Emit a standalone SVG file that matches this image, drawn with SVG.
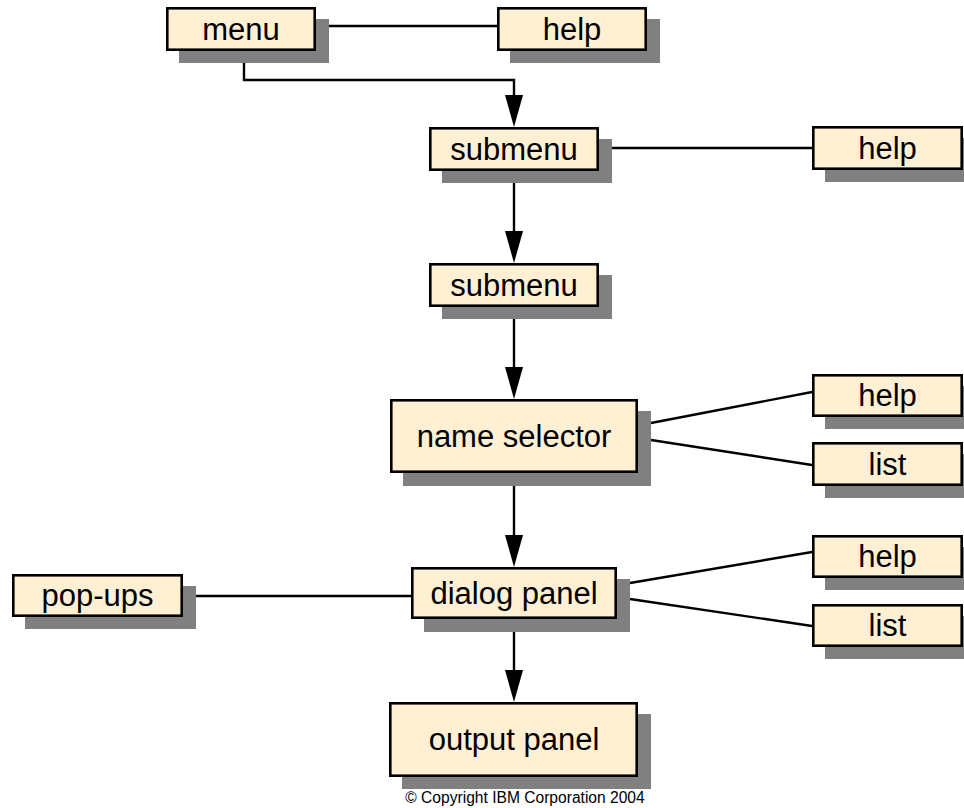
<svg xmlns="http://www.w3.org/2000/svg" width="964" height="808" viewBox="0 0 964 808">
  <style>
    .shadow { fill: #808080; }
    .box { fill: #FFEFD3; stroke: #000; stroke-width: 2.6; }
    .label { font-family: "Liberation Sans", Arial, sans-serif; font-size: 31px; fill: #000; text-anchor: middle; }
    .link { fill: none; stroke: #000; stroke-width: 2.4; }
    .flow { fill: none; stroke: #000; stroke-width: 2.4; marker-end: url(#arrow); }
    .note { font-family: "Liberation Sans", Arial, sans-serif; font-size: 15.6px; fill: #000; text-anchor: middle; }
  </style>
  <defs>
    <marker id="arrow" markerUnits="userSpaceOnUse" markerWidth="34" markerHeight="20" viewBox="0 0 34 20" refX="22" refY="10" orient="auto">
      <path d="M0,1 L32,10 L0,19 Z" fill="#000"/>
    </marker>
  </defs>

  <rect width="964" height="808" fill="#fff"/>

  <!-- connectors -->
  <g id="connectors">
    <line class="link" x1="329" y1="26" x2="497" y2="26"/>
    <line class="link" x1="612" y1="148" x2="812" y2="148"/>
    <line class="link" x1="651" y1="423" x2="812" y2="392"/>
    <line class="link" x1="651" y1="440" x2="812" y2="465"/>
    <line class="link" x1="630" y1="583" x2="812" y2="552"/>
    <line class="link" x1="630" y1="599" x2="812" y2="626"/>
    <line class="link" x1="196" y1="596" x2="411" y2="596"/>
    <path class="flow" d="M244,52 V80 H514 V117"/>
    <path class="flow" d="M514,183 V253"/>
    <path class="flow" d="M514,319 V389"/>
    <path class="flow" d="M514,486 V557"/>
    <path class="flow" d="M514,632 V692"/>
  </g>

  <g id="menu">
    <rect class="shadow" x="179" y="19" width="150" height="44"/>
    <rect class="box" x="167.3" y="8.3" width="147.4" height="41.4"/>
    <text class="label" x="241" y="39.5">menu</text>
  </g>
  <g id="help-menu">
    <rect class="shadow" x="510" y="19" width="150" height="44"/>
    <rect class="box" x="498.3" y="8.3" width="147.4" height="41.4"/>
    <text class="label" x="572" y="39.5">help</text>
  </g>
  <g id="submenu-1">
    <rect class="shadow" x="442" y="139" width="170" height="44"/>
    <rect class="box" x="430.3" y="128.3" width="167.4" height="41.4"/>
    <text class="label" x="514" y="159.5">submenu</text>
  </g>
  <g id="help-submenu">
    <rect class="shadow" x="825" y="138" width="151" height="44"/>
    <rect class="box" x="813.3" y="127.3" width="148.4" height="41.4"/>
    <text class="label" x="887.5" y="158.5">help</text>
  </g>
  <g id="submenu-2">
    <rect class="shadow" x="442" y="275" width="170" height="44"/>
    <rect class="box" x="430.3" y="264.3" width="167.4" height="41.4"/>
    <text class="label" x="514" y="295.5">submenu</text>
  </g>
  <g id="name-selector">
    <rect class="shadow" x="403" y="411" width="248" height="75"/>
    <rect class="box" x="391.3" y="400.3" width="245.4" height="71.4"/>
    <text class="label" x="514" y="446.5">name selector</text>
  </g>
  <g id="help-name-selector">
    <rect class="shadow" x="825" y="386" width="151" height="43"/>
    <rect class="box" x="813.3" y="375.3" width="148.4" height="40.4"/>
    <text class="label" x="887.5" y="406">help</text>
  </g>
  <g id="list-name-selector">
    <rect class="shadow" x="825" y="454" width="151" height="44"/>
    <rect class="box" x="813.3" y="443.3" width="148.4" height="41.4"/>
    <text class="label" x="887.5" y="474.5">list</text>
  </g>
  <g id="pop-ups">
    <rect class="shadow" x="25" y="586" width="171" height="43"/>
    <rect class="box" x="13.3" y="575.3" width="168.4" height="40.4"/>
    <text class="label" x="97.5" y="606">pop-ups</text>
  </g>
  <g id="dialog-panel">
    <rect class="shadow" x="424" y="579" width="206" height="53"/>
    <rect class="box" x="412.3" y="568.3" width="203.4" height="49.4"/>
    <text class="label" x="514" y="603.5">dialog panel</text>
  </g>
  <g id="help-dialog-panel">
    <rect class="shadow" x="825" y="547" width="151" height="43"/>
    <rect class="box" x="813.3" y="536.3" width="148.4" height="40.4"/>
    <text class="label" x="887.5" y="567">help</text>
  </g>
  <g id="list-dialog-panel">
    <rect class="shadow" x="825" y="616" width="151" height="43"/>
    <rect class="box" x="813.3" y="605.3" width="148.4" height="40.4"/>
    <text class="label" x="887.5" y="636">list</text>
  </g>
  <g id="output-panel">
    <rect class="shadow" x="402" y="714" width="249" height="75"/>
    <rect class="box" x="390.3" y="703.3" width="246.4" height="72.4"/>
    <text class="label" x="514" y="750">output panel</text>
  </g>

  <text class="note" x="525" y="803">© Copyright IBM Corporation 2004</text>
</svg>
